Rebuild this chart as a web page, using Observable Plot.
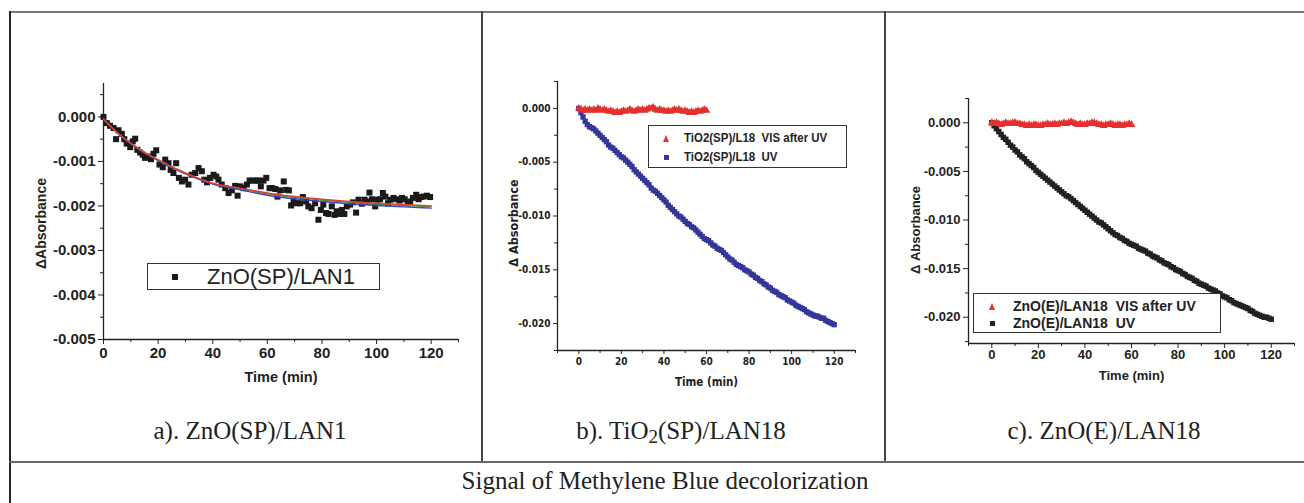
<!DOCTYPE html>
<html><head><meta charset="utf-8">
<script src="https://cdn.jsdelivr.net/npm/d3@7"></script>
<script src="https://cdn.jsdelivr.net/npm/@observablehq/plot@0.6"></script>
<style>
body{margin:0;background:#fff;width:1304px;height:503px;overflow:hidden;position:relative;}
.abs{position:absolute;}
.box{position:absolute;box-sizing:border-box;border:1.5px solid #333;background:#fff;}
.lg{position:absolute;white-space:pre;color:#222;transform-origin:0 50%;}
.cap{position:absolute;width:600px;text-align:center;font-family:"Liberation Serif","Times New Roman",serif;font-size:25px;color:#222;line-height:30px;}
.sq{position:absolute;width:6px;height:6px;}
</style>
</head><body>
<div class="abs" style="left:9px;top:11px;width:1400px;height:2px;background:#777"></div>
<div class="abs" style="left:9px;top:11px;width:2px;height:500px;background:#222"></div>
<div class="abs" style="left:481px;top:11px;width:2px;height:451px;background:#444"></div>
<div class="abs" style="left:884px;top:11px;width:2px;height:451px;background:#444"></div>
<div class="abs" style="left:9px;top:461px;width:1400px;height:2px;background:#666"></div>

<div id="pa" class="abs" style="left:20px;top:60px"></div>
<div id="pb" class="abs" style="left:490px;top:60px"></div>
<div id="pc" class="abs" style="left:893px;top:60px"></div>

<div id="legends"></div>

<div class="cap" style="left:-50px;top:416px">a). ZnO(SP)/LAN1</div>
<div class="cap" style="left:381px;top:416px">b). TiO<sub style="font-size:19px;vertical-align:-4px">2</sub>(SP)/LAN18</div>
<div class="cap" style="left:804px;top:416px">c). ZnO(E)/LAN18</div>
<div class="cap" style="left:365px;top:466px">Signal of Methylene Blue decolorization</div>

<script>
// ---------- data ----------
const aTime = [0,1.2,2.4,3.7,4.6,5.5,6.7,7.6,8.5,9.8,10.7,11.6,12.4,13.4,14.4,15.2,16.5,17.4,18.3,19.3,20.5,21.7,22.6,23.8,24.6,25.6,26.6,27.6,28.7,29.9,31.1,32.3,33.6,34.8,36,36.9,37.9,39,40.3,41.3,42.1,43.3,44.6,45.8,47,48.2,49.1,50.1,51.3,52.5,53.5,54.7,55.9,56.8,57.6,58.6,59.6,60.8,61.7,62.9,63.7,64.7,66,66.9,67.9,68.7,69.6,70.8,72,73,74.2,75,76.2,77.5,78.7,79.6,80.5,81.5,82.4,83.6,84.6,85.4,86.4,87.3,88.2,89.1,90.3,91.3,92.5,93.4,94.6,95.6,96.5,97.4,98.3,99.5,100.4,101.3,102.3,103.2,104.2,105,106.2,107.2,108.4,109.3,110.3,111.4,112.3,113.3,114.5,115.4,116.2,117.2,118.4,119.6];
const aValue = [0,-0.00014,-0.0002,-0.00025,-0.0005,-0.0003,-0.00038,-0.0005,-0.0006,-0.00068,-0.00055,-0.00049,-0.00074,-0.0008,-0.00085,-0.00092,-0.00089,-0.00095,-0.00083,-0.00075,-0.00107,-0.00113,-0.00096,-0.00104,-0.00119,-0.00126,-0.00104,-0.00137,-0.00145,-0.00141,-0.00152,-0.0013,-0.00126,-0.00115,-0.00122,-0.00141,-0.00147,-0.00137,-0.0013,-0.00134,-0.00141,-0.00152,-0.0016,-0.00171,-0.00165,-0.00155,-0.00177,-0.00156,-0.0016,-0.00152,-0.00143,-0.00143,-0.00143,-0.00143,-0.00156,-0.00143,-0.00137,-0.0016,-0.0016,-0.00162,-0.00179,-0.00165,-0.00145,-0.00164,-0.00165,-0.00199,-0.0019,-0.00194,-0.00194,-0.0018,-0.0019,-0.00201,-0.00205,-0.00194,-0.00231,-0.00209,-0.00197,-0.00216,-0.00218,-0.00201,-0.0022,-0.00212,-0.00218,-0.00209,-0.00218,-0.00201,-0.00197,-0.00192,-0.00215,-0.00186,-0.00195,-0.00186,-0.0019,-0.0017,-0.00185,-0.00201,-0.00186,-0.00185,-0.00171,-0.00179,-0.00194,-0.00186,-0.00182,-0.00185,-0.00188,-0.00182,-0.00185,-0.00194,-0.0019,-0.00182,-0.00175,-0.00185,-0.0018,-0.00179,-0.00177,-0.0018];
const fitTime = [0,5,10,15,20,25,30,40,50,60,70,80,90,100,110,120];
const fitRed   = [-0.00005,-0.00035,-0.00059,-0.0008,-0.00096,-0.00112,-0.00126,-0.00149,-0.0016,-0.00171,-0.00179,-0.00185,-0.0019,-0.00194,-0.00197,-0.002];
const fitBlue  = [-0.00005,-0.00036,-0.0006,-0.00081,-0.00098,-0.00114,-0.00128,-0.00151,-0.00164,-0.00176,-0.00184,-0.0019,-0.00195,-0.00199,-0.00202,-0.00205];
const fitGreen = [-0.00005,-0.00035,-0.0006,-0.0008,-0.00097,-0.00113,-0.00127,-0.0015,-0.00162,-0.00173,-0.00181,-0.00187,-0.00192,-0.00196,-0.00199,-0.00202];

const minutes = [0,1,2,3,4,5,6,7,8,9,10,11,12,13,14,15,16,17,18,19,20,21,22,23,24,25,26,27,28,29,30,31,32,33,34,35,36,37,38,39,40,41,42,43,44,45,46,47,48,49,50,51,52,53,54,55,56,57,58,59,60,61,62,63,64,65,66,67,68,69,70,71,72,73,74,75,76,77,78,79,80,81,82,83,84,85,86,87,88,89,90,91,92,93,94,95,96,97,98,99,100,101,102,103,104,105,106,107,108,109,110,111,112,113,114,115,116,117,118,119,120];
const visMinutes = minutes.slice(0, 61);

const bUV = [0,-0.0004,-0.0008,-0.0012,-0.0015,-0.0017,-0.0018,-0.0019,-0.0021,-0.0023,-0.0025,-0.0027,-0.0029,-0.0031,-0.0034,-0.0036,-0.0037,-0.0039,-0.0041,-0.0043,-0.0045,-0.0046,-0.0048,-0.005,-0.0052,-0.0054,-0.0057,-0.0059,-0.0061,-0.0063,-0.0065,-0.0067,-0.0069,-0.0071,-0.0074,-0.0076,-0.0077,-0.0079,-0.0081,-0.0083,-0.0085,-0.0087,-0.009,-0.0092,-0.0094,-0.0096,-0.0098,-0.01,-0.0101,-0.0103,-0.0105,-0.0107,-0.0108,-0.011,-0.0111,-0.0113,-0.0115,-0.0117,-0.0119,-0.0121,-0.0122,-0.0123,-0.0125,-0.0127,-0.0128,-0.013,-0.0131,-0.0132,-0.0134,-0.0136,-0.0138,-0.014,-0.0141,-0.0143,-0.0145,-0.0146,-0.0147,-0.0148,-0.015,-0.0151,-0.0152,-0.0154,-0.0155,-0.0157,-0.0158,-0.016,-0.0161,-0.0163,-0.0164,-0.0166,-0.0167,-0.0169,-0.017,-0.0171,-0.0173,-0.0174,-0.0175,-0.0176,-0.0178,-0.0179,-0.018,-0.0181,-0.0183,-0.0184,-0.0185,-0.0186,-0.0187,-0.0189,-0.019,-0.0191,-0.0192,-0.0193,-0.0193,-0.0194,-0.0195,-0.0195,-0.0197,-0.0198,-0.0199,-0.02,-0.0201];
const bVIS = [0,-0.0001,-0.0002,-0.0001,-0.0002,-0.0001,-0.0002,-0.0001,-0.0002,0,-0.0001,-0.0002,-0.0001,-0.0002,-0.0003,-0.0002,-0.0003,-0.0004,-0.0003,-0.0004,-0.0003,-0.0002,-0.0003,-0.0002,-0.0001,-0.0002,-0.0003,-0.0002,-0.0001,-0.0002,-0.0001,-0.0002,-0.0001,0,0,0.0001,-0.0001,-0.0002,-0.0001,-0.0002,-0.0002,-0.0003,-0.0002,-0.0003,-0.0002,-0.0001,-0.0002,-0.0001,-0.0002,-0.0003,-0.0002,-0.0003,-0.0004,-0.0003,-0.0004,-0.0003,-0.0002,-0.0003,-0.0002,-0.0001,-0.0002];

const cUV = [0,-0.0003,-0.0006,-0.0009,-0.0012,-0.0015,-0.0017,-0.002,-0.0023,-0.0025,-0.0028,-0.003,-0.0033,-0.0035,-0.0037,-0.004,-0.0042,-0.0044,-0.0046,-0.0049,-0.0051,-0.0053,-0.0055,-0.0057,-0.0059,-0.0061,-0.0063,-0.0065,-0.0067,-0.0069,-0.0071,-0.0073,-0.0075,-0.0076,-0.0078,-0.008,-0.0082,-0.0084,-0.0086,-0.0088,-0.009,-0.0092,-0.0094,-0.0096,-0.0098,-0.01,-0.0102,-0.0103,-0.0105,-0.0107,-0.0109,-0.0111,-0.0113,-0.0115,-0.0116,-0.0118,-0.0119,-0.0121,-0.0122,-0.0124,-0.0125,-0.0126,-0.0127,-0.0129,-0.013,-0.0131,-0.0132,-0.0134,-0.0135,-0.0137,-0.0138,-0.0139,-0.0141,-0.0142,-0.0144,-0.0145,-0.0146,-0.0148,-0.0149,-0.0151,-0.0152,-0.0153,-0.0155,-0.0156,-0.0158,-0.0159,-0.016,-0.0162,-0.0163,-0.0165,-0.0166,-0.0167,-0.0168,-0.017,-0.0171,-0.0172,-0.0173,-0.0175,-0.0176,-0.0178,-0.0179,-0.018,-0.0182,-0.0183,-0.0185,-0.0186,-0.0187,-0.0188,-0.0189,-0.019,-0.0191,-0.0193,-0.0194,-0.0196,-0.0197,-0.0198,-0.0199,-0.02,-0.02,-0.0201,-0.0202];
const cVIS = [0,-0.0001,0,-0.0001,-0.0002,-0.0001,0,-0.0001,-0.0001,0,0,-0.0001,-0.0001,-0.0002,-0.0002,-0.0003,-0.0002,-0.0003,-0.0002,-0.0002,-0.0003,-0.0003,-0.0002,-0.0002,-0.0001,-0.0002,-0.0002,-0.0001,-0.0002,-0.0001,-0.0001,0,-0.0001,0,0.0001,0,-0.0001,-0.0002,-0.0001,-0.0002,-0.0002,-0.0001,-0.0001,0,0,-0.0001,-0.0002,-0.0002,-0.0003,-0.0002,-0.0002,-0.0001,-0.0002,-0.0003,-0.0002,-0.0002,-0.0003,-0.0002,-0.0002,-0.0001,-0.0002];

// tick labels
const aXTicks = [0,20,40,60,80,100,120];
const aXMinor = [10,30,50,70,90,110,130];
const aYTicks = [0,-0.001,-0.002,-0.003,-0.004,-0.005];
const aYMinor = [0.0005,-0.0005,-0.0015,-0.0025,-0.0035,-0.0045];
const bcXTicks = [0,20,40,60,80,100,120];
const bcXMinor = [-10,10,30,50,70,90,110,130];
const bcYTicks = [0,-0.005,-0.01,-0.015,-0.02];
const bcYMinor = [0.0025,-0.0025,-0.0075,-0.0125,-0.0175,-0.0225];

const xTitle = "Time (min)";
const aYTitle = "\u0394Absorbance";
const bcYTitle = "\u0394 Absorbance";
const aLegend = ["ZnO(SP)/LAN1"];
const bLegend = ["TiO2(SP)/L18  VIS after UV", "TiO2(SP)/L18  UV"];
const cLegend = ["ZnO(E)/LAN18  VIS after UV", "ZnO(E)/LAN18  UV"];

const RED = "#e3312f", NAVY = "#34369a", INK = "#222";
const sans = "'Liberation Sans', Arial, sans-serif";
const narrow = "'Liberation Sans Narrow', 'DejaVu Sans Condensed', 'Liberation Sans', sans-serif";
const fmt = d => d.toFixed(3);

function axes(o) {
  return [
    Plot.ruleX([o.xmin], {stroke: INK, strokeWidth: 1.3}),
    Plot.ruleY([o.ymin], {stroke: INK, strokeWidth: 1.3}),
    Plot.axisX({ticks: o.xt, tickSize: o.ts, tickPadding: o.tpx, tickFormat: d => String(d), label: null, stroke: INK, fontSize: o.fs}),
    Plot.axisX({ticks: o.xm, tickSize: 3, tickFormat: () => "", label: null, stroke: INK}),
    Plot.axisY({ticks: o.yt, tickSize: o.ts, tickPadding: 3, tickFormat: fmt, label: null, stroke: INK, fontSize: o.fs}),
    Plot.axisY({ticks: o.ym, tickSize: 3, tickFormat: () => "", label: null, stroke: INK}),
    Plot.text([xTitle], {frameAnchor: "bottom", textAnchor: "middle", lineAnchor: "middle", dy: o.xdy, fontSize: o.tfs, fontWeight: "bold", fill: INK}),
    Plot.text([o.ytitle], {frameAnchor: "left", textAnchor: "middle", lineAnchor: "middle", rotate: -90, dx: o.ydx, dy: o.ydy, fontSize: o.yfs, fontWeight: "bold", fill: INK})
  ];
}

// ---------- panel a ----------
const pa = Plot.plot({
  width: 460, height: 320, marginLeft: 83, marginRight: 22, marginTop: 23, marginBottom: 41,
  x: {domain: [0, 130]}, y: {domain: [-0.005, 0.00075]},
  style: {fontFamily: sans, fontSize: "15px", fontWeight: "bold", color: INK, background: "transparent", overflow: "visible"},
  marks: [
    ...axes({xmin: 0, ymin: -0.005, xt: aXTicks, xm: aXMinor, yt: aYTicks, ym: aYMinor, ts: 5, tpx: 3, fs: 15,
             xdy: 38, tfs: 14.5, ytitle: aYTitle, ydx: -62, ydy: 12, yfs: 14}),
    Plot.dot(aTime, {x: aTime, y: aValue, symbol: "square", r: 3.4, fill: "#1a1a1a", stroke: null}),
    Plot.line(fitTime, {x: fitTime, y: fitGreen, stroke: "#3a9a3a", strokeWidth: 1.3, curve: "natural"}),
    Plot.line(fitTime, {x: fitTime, y: fitBlue, stroke: "#3a48c8", strokeWidth: 1.4, curve: "natural"}),
    Plot.line(fitTime, {x: fitTime, y: fitRed, stroke: "#e0402c", strokeWidth: 1.5, curve: "natural"})
  ]
});
document.getElementById("pa").append(pa);

// ---------- panel b ----------
const pb = Plot.plot({
  width: 390, height: 320, marginLeft: 67, marginRight: 25, marginTop: 21, marginBottom: 30,
  x: {domain: [-10, 130]}, y: {domain: [-0.0225, 0.0025]},
  style: {fontFamily: narrow, fontSize: "10px", fontWeight: "bold", color: INK, background: "transparent", overflow: "visible"},
  marks: [
    ...axes({xmin: -10, ymin: -0.0225, xt: bcXTicks, xm: bcXMinor, yt: bcYTicks, ym: bcYMinor, ts: 4, tpx: 3, fs: 10,
             xdy: 32, tfs: 11.5, ytitle: bcYTitle, ydx: -44, ydy: 7, yfs: 12.5}),
    Plot.dot(minutes, {x: minutes, y: bUV, symbol: "square", r: 3, fill: NAVY, stroke: null}),
    Plot.dot(visMinutes, {x: visMinutes, y: bVIS, symbol: "triangle", r: 2.8, fill: RED, stroke: null})
  ]
});
document.getElementById("pb").append(pb);

// ---------- panel c ----------
const pc = Plot.plot({
  width: 411, height: 320, marginLeft: 75, marginRight: 10, marginTop: 38, marginBottom: 37,
  x: {domain: [-10, 130]}, y: {domain: [-0.0227, 0.0025]},
  style: {fontFamily: sans, fontSize: "13px", fontWeight: "bold", color: INK, background: "transparent", overflow: "visible"},
  marks: [
    ...axes({xmin: -10, ymin: -0.0227, xt: bcXTicks, xm: bcXMinor, yt: bcYTicks, ym: bcYMinor, ts: 5, tpx: 1, fs: 13,
             xdy: 32, tfs: 13, ytitle: bcYTitle, ydx: -53, ydy: 9, yfs: 13}),
    Plot.dot(minutes, {x: minutes, y: cUV, symbol: "square", r: 3.1, fill: INK, stroke: null}),
    Plot.dot(visMinutes, {x: visMinutes, y: cVIS, symbol: "triangle", r: 2.9, fill: RED, stroke: null})
  ]
});
document.getElementById("pc").append(pc);

// ---------- legends (HTML) ----------
const L = document.getElementById("legends");
function box(l, t, w, h) { const d = document.createElement("div"); d.className = "box"; Object.assign(d.style, {left: l + "px", top: t + "px", width: w + "px", height: h + "px"}); L.append(d); }
function sq(cx, cy, color, s) { const d = document.createElement("div"); d.className = "sq"; Object.assign(d.style, {left: (cx - s / 2) + "px", top: (cy - s / 2) + "px", width: s + "px", height: s + "px", background: color}); L.append(d); }
function tri(cx, cy, color, s) {
  const d = document.createElement("div");
  Object.assign(d.style, {position: "absolute", left: (cx - s / 2) + "px", top: (cy - s / 2) + "px", width: "0", height: "0",
    borderLeft: (s / 2) + "px solid transparent", borderRight: (s / 2) + "px solid transparent", borderBottom: s + "px solid " + color});
  L.append(d);
}
function txt(str, l, cy, font, size, weight, sx) {
  const d = document.createElement("div"); d.className = "lg"; d.textContent = str;
  Object.assign(d.style, {left: l + "px", top: (cy - size * 0.6) + "px", fontFamily: font, fontSize: size + "px", fontWeight: weight, lineHeight: (size * 1.2) + "px"});
  if (sx) d.style.transform = "scaleX(" + sx + ")";
  L.append(d);
}
box(147, 263, 233, 27); sq(175, 277, "#1a1a1a", 6); txt(aLegend[0], 207, 277, sans, 22, "normal");
box(648, 125, 199, 43); tri(666, 138, RED, 7); sq(666, 157, NAVY, 5); txt(bLegend[0], 684, 138, sans, 13.5, "bold", 0.85); txt(bLegend[1], 684, 157, sans, 13.5, "bold", 0.85);
box(973, 293, 248, 40); tri(992, 306, RED, 7); sq(992, 323, INK, 5); txt(cLegend[0], 1013, 306, sans, 14, "bold"); txt(cLegend[1], 1013, 323, sans, 14, "bold");
</script>
</body></html>
